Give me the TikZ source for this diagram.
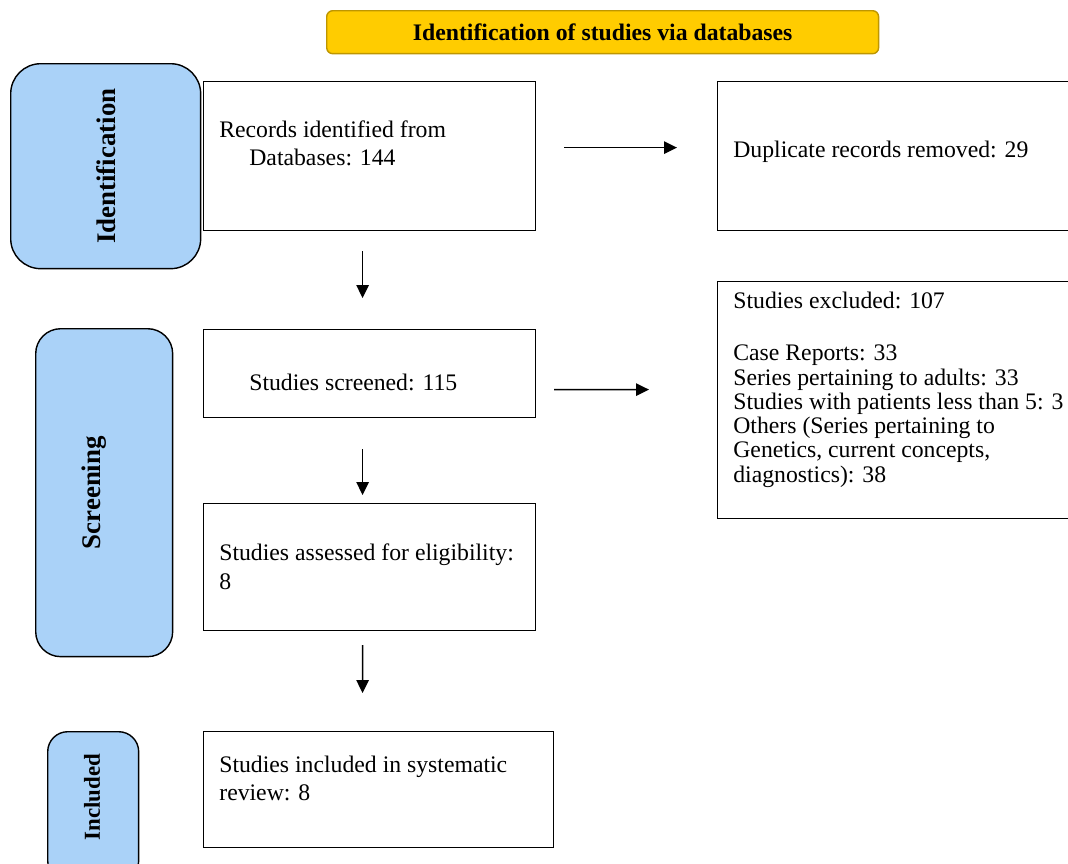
\documentclass[tikz,border=0pt]{standalone}
\usepackage{fontspec}
\setmainfont{Liberation Serif}
\usepackage{xcolor}
\usetikzlibrary{arrows.meta}

\definecolor{phaseblue}{HTML}{AAD2F8}
\definecolor{headgold}{HTML}{FFCC00}
\definecolor{headedge}{HTML}{BE9600}

\begin{document}
\begin{tikzpicture}[x=0.02cm, y=-0.02cm,
    box/.style={draw, line width=.7pt, anchor=north west, inner sep=0pt},
    phase/.style={draw, line width=.8pt, fill=phaseblue, anchor=north west, inner sep=0pt},
    phasetxt/.style={rotate=90, inner sep=0pt, font=\fontsize{15.3}{18}\selectfont\bfseries},
    txt/.style={anchor=base west, inner sep=0pt, align=left,
                font=\fontsize{13.5}{15.4}\selectfont},
    arr/.style={-{Triangle[length=.26cm,width=.25cm]}, line width=.8pt}]
  \useasboundingbox (0,0) rectangle (1068,863);
  \clip (0,0) rectangle (1068,863);

  % header
  \node[draw=headedge, line width=.8pt, fill=headgold, rounded corners=.12cm,
        anchor=north west, minimum width=11.04cm, minimum height=.86cm,
        font=\fontsize{13.5}{16}\selectfont\bfseries] (head) at (326,10)
        {Identification of studies via databases};

  % phase boxes on the left
  \node[phase, rounded corners=.6cm, minimum width=3.8cm, minimum height=4.1cm]
        (idph) at (10,63) {};
  \node[phasetxt] (idlbl) at (idph.center) {Identification};
  \node[phase, rounded corners=.5cm, minimum width=2.74cm, minimum height=6.56cm]
        (scph) at (35,328) {};
  \node[phasetxt] (sclbl) at ([xshift=-.2cm]scph.center) {Screening};
  \node[phase, rounded corners=.4cm, minimum width=1.82cm, minimum height=2.98cm]
        (incph) at (47,731) {};
  \node[phasetxt, font=\fontsize{13}{16}\selectfont\bfseries] (inclbl) at (92,797) {Included};

  % flow boxes (text nodes sit on the baseline of their last line)
  \node[box, minimum width=6.64cm, minimum height=2.98cm] (rec) at (203,81) {};
  \node[txt] (rectxt) at (219,165)
        {Records identified from\\\hspace*{.6cm}Databases: 144};
  \node[box, minimum width=7.16cm, minimum height=2.98cm] (dup) at (717,81) {};
  \node[txt] (duptxt) at (733,157) {Duplicate records removed: 29};

  \node[box, minimum width=6.64cm, minimum height=1.76cm] (scr) at (203,329) {};
  \node[txt] (scrtxt) at (249,390) {Studies screened: 115};
  \node[box, minimum width=7.16cm, minimum height=4.74cm] (exc) at (717,281) {};
  \node[txt, font=\fontsize{13.5}{13.8}\selectfont] (exctxt) at (733,482)
        {Studies excluded: 107\\[.56cm]
         Case Reports: 33\\
         Series pertaining to adults: 33\\
         Studies with patients less than 5: 3\\
         Others (Series pertaining to\\
         Genetics, current concepts,\\
         diagnostics): 38};

  \node[box, minimum width=6.64cm, minimum height=2.54cm] (elig) at (203,503) {};
  \node[txt, font=\fontsize{13.5}{16.4}\selectfont] (eligtxt) at (219,589)
        {Studies assessed for eligibility:\\8};

  \node[box, minimum width=7cm, minimum height=2.32cm] (inc) at (203,731) {};
  \node[txt, font=\fontsize{13.5}{15.9}\selectfont] (inctxt) at (219,800)
        {Studies included in systematic\\review: 8};

  % arrows
  \draw[arr, shorten <=.56cm, shorten >=.8cm]
        ([yshift=.17cm]rec.east) -- ([yshift=.17cm]dup.west);
  \draw[arr, shorten <=.36cm, shorten >=1.36cm]
        ([yshift=-.32cm]scr.east) -- ([yshift=.21cm]exc.west);
  \draw[arr, shorten <=.4cm, shorten >=.62cm]
        ([xshift=-.14cm]rec.south) -- ([xshift=-.14cm]scr.north);
  \draw[arr, shorten <=.62cm, shorten >=.16cm]
        ([xshift=-.14cm]scr.south) -- ([xshift=-.14cm]elig.north);
  \draw[arr, shorten <=.28cm, shorten >=.76cm]
        ([xshift=-.14cm]elig.south) -- ([xshift=-.32cm]inc.north);
\end{tikzpicture}
\end{document}
